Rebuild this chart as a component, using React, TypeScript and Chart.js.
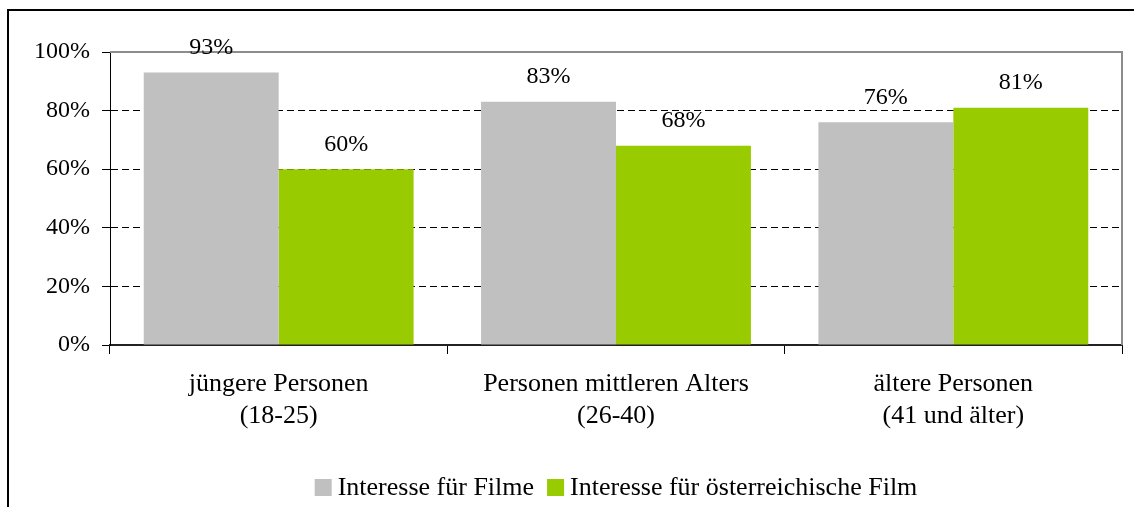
import React, { useEffect, useRef } from "react";
import { Chart, registerables } from "chart.js";

Chart.register(...registerables);

// ---- data ----
const categories: string[][] = [
  ["jüngere Personen", "(18-25)"],
  ["Personen mittleren Alters", "(26-40)"],
  ["ältere Personen", "(41 und älter)"],
];
const seriesNames = ["Interesse für Filme", "Interesse für österreichische Film"];
const filmeValues = [93, 83, 76];
const oesterreichValues = [60, 68, 81];
const seriesColors = ["#C0C0C0", "#99CC00"];
const yMin = 0;
const yMax = 100;
const yStep = 20;

const FONT = "'Liberation Serif', 'Times New Roman', serif";
const W = 1134;
const H = 507;

const framePlugin = {
  id: "frame",
  beforeDraw(chart: any) {
    const ctx = chart.ctx;
    ctx.save();
    ctx.fillStyle = "#ffffff";
    ctx.fillRect(0, 0, chart.width, chart.height);
    ctx.strokeStyle = "#000000";
    ctx.lineWidth = 2;
    ctx.strokeRect(8, 10, 2000, 2000);
    ctx.restore();
  },
};

const plotBorderPlugin = {
  id: "plotBorder",
  beforeDatasetsDraw(chart: any) {
    const { ctx, chartArea } = chart;
    ctx.save();
    ctx.strokeStyle = "#8c8c8c";
    ctx.lineWidth = 2;
    ctx.beginPath();
    ctx.moveTo(chartArea.left, chartArea.top);
    ctx.lineTo(chartArea.right, chartArea.top);
    ctx.lineTo(chartArea.right, chartArea.bottom);
    ctx.stroke();
    ctx.restore();
  },
};

const dataLabelPlugin = {
  id: "dataLabels",
  afterDatasetsDraw(chart: any) {
    const ctx = chart.ctx;
    ctx.save();
    ctx.font = `24px ${FONT}`;
    ctx.fillStyle = "#000000";
    ctx.textAlign = "center";
    ctx.textBaseline = "alphabetic";
    chart.data.datasets.forEach((ds: any, di: number) => {
      const meta = chart.getDatasetMeta(di);
      meta.data.forEach((bar: any, i: number) => {
        ctx.fillText(`${ds.data[i]}%`, bar.x, bar.y - 18.5);
      });
    });
    ctx.restore();
  },
};

const legendPlugin = {
  id: "customLegend",
  afterDraw(chart: any) {
    const { ctx, chartArea } = chart;
    ctx.save();
    ctx.font = `26px ${FONT}`;
    ctx.textBaseline = "alphabetic";
    ctx.textAlign = "left";
    const box = 17;
    const gapText = 6;
    const gapItem = 13;
    const widths = chart.data.datasets.map((ds: any) => ctx.measureText(ds.label).width);
    let total = 0;
    widths.forEach((w: number, i: number) => {
      total += box + gapText + w + (i < widths.length - 1 ? gapItem : 0);
    });
    let x = (chartArea.left + chartArea.right) / 2 - total / 2;
    const baseline = 495;
    chart.data.datasets.forEach((ds: any, i: number) => {
      ctx.fillStyle = ds.backgroundColor;
      ctx.fillRect(x, baseline - 16, box, box);
      x += box + gapText;
      ctx.fillStyle = "#000000";
      ctx.fillText(ds.label, x, baseline);
      x += widths[i] + gapItem;
    });
    ctx.restore();
  },
};

export default function App() {
  const canvasRef = useRef<HTMLCanvasElement | null>(null);

  useEffect(() => {
    if (!canvasRef.current) return;
    const chart = new Chart(canvasRef.current, {
      type: "bar",
      data: {
        labels: categories,
        datasets: [
          {
            label: seriesNames[0],
            data: filmeValues,
            backgroundColor: seriesColors[0],
            borderWidth: 0,
          },
          {
            label: seriesNames[1],
            data: oesterreichValues,
            backgroundColor: seriesColors[1],
            borderWidth: 0,
          },
        ],
      },
      options: {
        animation: false,
        responsive: false,
        devicePixelRatio: 1,
        layout: { padding: { top: 52, right: 12, left: 0, bottom: 0 } },
        datasets: {
          bar: { categoryPercentage: 0.8, barPercentage: 1 },
        },
        plugins: {
          legend: { display: false },
          tooltip: { enabled: false },
        },
        scales: {
          x: {
            offset: true,
            grid: {
              offset: true,
              drawOnChartArea: false,
              drawTicks: true,
              tickLength: 9,
              tickColor: "#000000",
              tickWidth: 1,
            },
            border: { display: true, color: "#222222", width: 2 },
            ticks: {
              color: "#000000",
              font: { family: FONT, size: 26, lineHeight: 1.23 },
              padding: 14,
              maxRotation: 0,
              autoSkip: false,
            },
            afterFit(scale: any) {
              scale.height = H - 345;
            },
          },
          y: {
            min: yMin,
            max: yMax,
            grid: {
              color: (c: any) =>
                c.tick && (c.tick.value === yMin || c.tick.value === yMax) ? "rgba(0,0,0,0)" : "#000000",
              lineWidth: 1,
              drawTicks: true,
              tickLength: 8,
              tickColor: "#000000",
              tickWidth: 1,
            },
            border: { display: true, color: "#000000", width: 1, dash: [7, 4] },
            ticks: {
              stepSize: yStep,
              color: "#000000",
              font: { family: FONT, size: 24 },
              padding: 12,
              callback: (v: any) => `${v}%`,
            },
            afterFit(scale: any) {
              scale.width = 110;
            },
          },
        },
      },
      plugins: [framePlugin, plotBorderPlugin, dataLabelPlugin, legendPlugin],
    });
    return () => chart.destroy();
  }, []);

  return (
    <div
      style={{
        position: "fixed",
        left: 0,
        top: 0,
        width: W,
        height: H,
        overflow: "hidden",
        background: "#ffffff",
      }}
    >
      <canvas ref={canvasRef} width={W} height={H} style={{ display: "block", width: W, height: H }} />
    </div>
  );
}
